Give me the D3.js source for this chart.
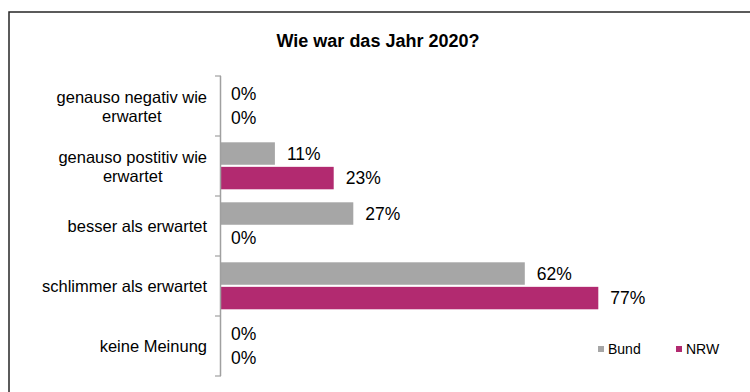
<!DOCTYPE html>
<html lang="de">
<head>
<meta charset="UTF-8">
<script src="https://d3js.org/d3.v7.min.js"></script>
<style>
  body { margin: 0; background: #fff; font-family: "Liberation Sans", Arial, sans-serif; }
  svg { display: block; }
</style>
</head>
<body>
<div id="chart"></div>
<script>
// Daten
const categories = [
  ["genauso negativ wie", "erwartet"],
  ["genauso postitiv wie", "erwartet"],
  ["besser als erwartet"],
  ["schlimmer als erwartet"],
  ["keine Meinung"]
];
const seriesNames = ["Bund", "NRW"];
const bund = [0, 0.11, 0.27, 0.62, 0];
const nrw = [0, 0.23, 0, 0.77, 0];
const colors = ["#a6a6a6", "#b22a70"];
const title = "Wie war das Jahr 2020?";

const width = 750, height = 392;
const margin = { top: 76, left: 221, bottom: 16 };

const svg = d3.select("#chart").append("svg")
  .attr("width", width)
  .attr("height", height);

// Rahmen
svg.append("rect")
  .attr("x", 9).attr("y", 12)
  .attr("width", 900).attr("height", 600)
  .attr("fill", "none")
  .attr("stroke", "#262626")
  .attr("stroke-width", 1.5);

svg.append("text")
  .attr("x", 378).attr("y", 47)
  .attr("text-anchor", "middle")
  .attr("font-weight", "bold")
  .attr("font-size", 18)
  .attr("fill", "#000")
  .text(title);

const idx = d3.range(categories.length);

const y = d3.scaleBand()
  .domain(idx)
  .range([margin.top, height - margin.bottom])
  .paddingInner(0)
  .paddingOuter(0);

const ySub = d3.scaleBand()
  .domain([0, 1])
  .range([6.3, y.bandwidth() - 6.7])
  .paddingInner(0.085);

const x = d3.scaleLinear()
  .domain([0, 1])
  .range([margin.left, margin.left + 490]);

const rows = idx.map(i => ({ i, vals: [bund[i], nrw[i]] }));

const g = svg.selectAll(".cat")
  .data(rows)
  .enter().append("g")
  .attr("class", "cat")
  .attr("transform", d => `translate(0,${y(d.i)})`);

g.selectAll("rect")
  .data(d => d.vals.map((v, s) => ({ v, s })))
  .enter().append("rect")
  .attr("x", x(0))
  .attr("y", d => ySub(d.s))
  .attr("width", d => x(d.v) - x(0))
  .attr("height", ySub.bandwidth())
  .attr("fill", d => colors[d.s]);

g.selectAll("text.val")
  .data(d => d.vals.map((v, s) => ({ v, s })))
  .enter().append("text")
  .attr("class", "val")
  .attr("x", d => x(d.v) + (d.v > 0 ? 12 : 10))
  .attr("y", d => ySub(d.s) + ySub.bandwidth() / 2 + 6)
  .attr("font-size", 17.5)
  .attr("fill", "#000")
  .text(d => Math.round(d.v * 100) + "%");

// Kategorie-Beschriftungen
const catSize = 16.5;
g.each(function(d) {
  const lines = categories[d.i];
  const c = y.bandwidth() / 2;
  const t = d3.select(this).append("text")
    .attr("font-size", catSize)
    .attr("fill", "#000");
  if (lines.length === 1) {
    t.attr("x", 207).attr("y", c + 6).attr("text-anchor", "end").text(lines[0]);
  } else {
    // zweizeilig, zentriert unter der ersten Zeile
    const tmp = svg.append("text").attr("font-size", catSize).text(lines[0]);
    const w = tmp.node().getComputedTextLength();
    tmp.remove();
    const cx = 207 - w / 2;
    t.attr("text-anchor", "middle");
    lines.forEach((l, k) => {
      t.append("tspan").attr("x", cx).attr("y", c - 3 + k * 19).text(l);
    });
  }
});

// Achse
const axis = svg.append("g");
axis.append("line")
  .attr("x1", x(0) - 0.5).attr("x2", x(0) - 0.5)
  .attr("y1", y.range()[0]).attr("y2", y.range()[1])
  .attr("stroke", "#a0a0a0").attr("stroke-width", 1.5);
axis.selectAll("line.tick")
  .data(idx.concat([categories.length]))
  .enter().append("line")
  .attr("class", "tick")
  .attr("x1", x(0) - 6).attr("x2", x(0))
  .attr("y1", d => d < categories.length ? y(d) : y.range()[1])
  .attr("y2", d => d < categories.length ? y(d) : y.range()[1])
  .attr("stroke", "#a0a0a0").attr("stroke-width", 1.2);

// Legende
const legX = [598, 676];
const leg = svg.selectAll(".leg")
  .data(seriesNames)
  .enter().append("g")
  .attr("class", "leg")
  .attr("transform", (d, i) => `translate(${legX[i]},349)`);
leg.append("rect")
  .attr("x", 0).attr("y", -3)
  .attr("width", 6).attr("height", 6)
  .attr("fill", (d, i) => colors[i]);
leg.append("text")
  .attr("x", 10).attr("y", 5)
  .attr("font-size", 14)
  .attr("fill", "#000")
  .text(d => d);
</script>
</body>
</html>
